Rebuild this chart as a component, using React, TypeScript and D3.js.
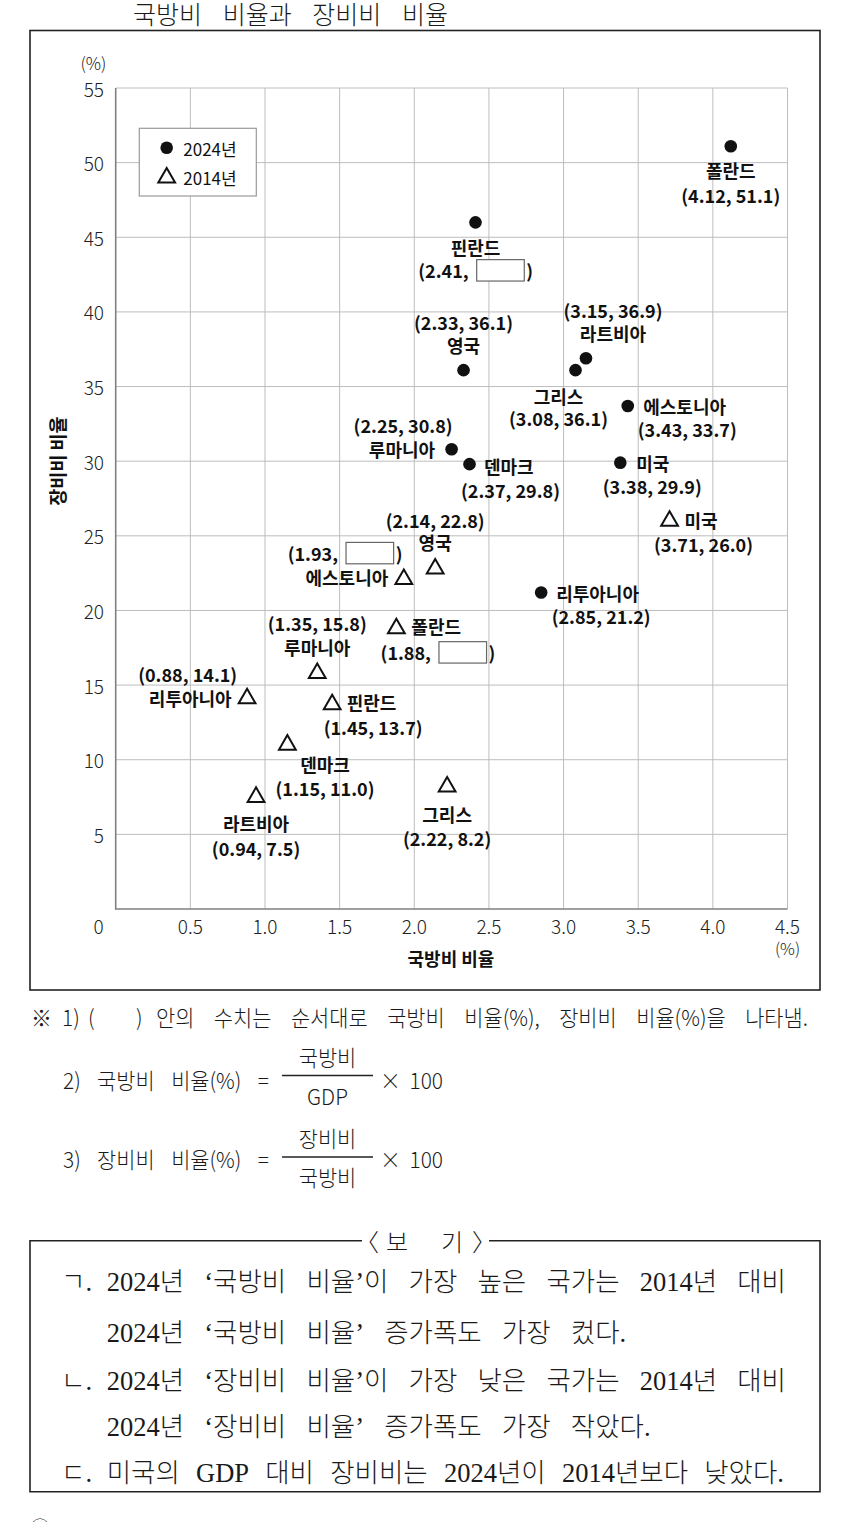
import { useEffect, useRef } from 'react';
import * as d3 from 'd3';

// 2024년 (filled circles)
const countries2024 = ['폴란드', '핀란드', '영국', '라트비아', '그리스', '에스토니아', '루마니아', '덴마크', '미국', '리투아니아'];
const defense2024 = [4.12, 2.41, 2.33, 3.15, 3.08, 3.43, 2.25, 2.37, 3.38, 2.85];
const equipment2024 = [51.1, 46.0, 36.1, 36.9, 36.1, 33.7, 30.8, 29.8, 29.9, 21.2];

// 2014년 (open triangles)
const countries2014 = ['미국', '영국', '에스토니아', '폴란드', '루마니아', '리투아니아', '핀란드', '덴마크', '라트비아', '그리스'];
const defense2014 = [3.71, 2.14, 1.93, 1.88, 1.35, 0.88, 1.45, 1.15, 0.94, 2.22];
const equipment2014 = [26.0, 22.8, 22.1, 18.8, 15.8, 14.1, 13.7, 11.0, 7.5, 8.2];

// values shown as an empty box in the original
const hiddenValues = ['2024-핀란드', '2014-에스토니아', '2014-폴란드'];

const xTickValues = [0, 0.5, 1.0, 1.5, 2.0, 2.5, 3.0, 3.5, 4.0, 4.5];
const yTickValues = [0, 5, 10, 15, 20, 25, 30, 35, 40, 45, 50, 55];

const titleWords = ['국방비', '비율과', '장비비', '비율'];
const noteWords = ['안의', '수치는', '순서대로', '국방비', '비율(%),', '장비비', '비율(%)을', '나타냄.'];
const bogiLines = [
  ['ㄱ.', '2024년', '‘국방비', '비율’이', '가장', '높은', '국가는', '2014년', '대비'],
  ['', '2024년', '‘국방비', '비율’', '증가폭도', '가장', '컸다.'],
  ['ㄴ.', '2024년', '‘장비비', '비율’이', '가장', '낮은', '국가는', '2014년', '대비'],
  ['', '2024년', '‘장비비', '비율’', '증가폭도', '가장', '작았다.'],
  ['ㄷ.', '미국의', 'GDP', '대비', '장비비는', '2024년이', '2014년보다', '낮았다.'],
];
// right edge of justified lines; null = continuation line set with the previous spacing
const bogiEnds: (number | null)[] = [786, null, 786, null, 784];

// label placement around each mark: [nameDx, nameDy, nameAnchor, valueDx, valueDy]
const labelLayout: Record<string, [number, number, string, number, number]> = {
  '2024-폴란드': [0, 24, 'middle', 0, 49],
  '2024-핀란드': [0, 25, 'middle', 0, 48],
  '2024-영국': [0, -25, 'middle', 0, -48],
  '2024-라트비아': [27, -25, 'middle', 27, -48],
  '2024-그리스': [-17, 26, 'middle', -17, 48],
  '2024-에스토니아': [15.5, 0, 'start', 59.5, 23],
  '2024-루마니아': [-16.5, 0, 'end', -48.5, -24],
  '2024-덴마크': [14.5, 2, 'start', 41, 26],
  '2024-미국': [16, 0, 'start', 32, 23],
  '2024-리투아니아': [15, 0, 'start', 60, 23],
  '2014-미국': [15, -1, 'start', 34, 23],
  '2014-영국': [0, -27, 'middle', 0, -49],
  '2014-에스토니아': [-15.5, -2, 'end', -59, -26],
  '2014-폴란드': [15, -2, 'start', 41.4, 24],
  '2014-루마니아': [0, -26, 'middle', 0, -50],
  '2014-리투아니아': [-15.4, -1, 'end', -59.4, -25],
  '2014-핀란드': [14.5, -2, 'start', 41, 23],
  '2014-덴마크': [37.6, 19.5, 'middle', 37.6, 43.5],
  '2014-라트비아': [0, 26, 'middle', 0, 51],
  '2014-그리스': [0, 27, 'middle', 0, 51],
};

const SANS = '"Noto Sans CJK KR", "Noto Sans", sans-serif';
const SERIF = '"Liberation Serif", "DejaVu Serif", "Noto Sans CJK KR", serif';

type Sel = d3.Selection<any, unknown, null, undefined>;
type Font = { size: number; family?: string; weight?: number; sx?: number; fill?: string };

// lay words out from x0; if x1 is given the gaps are stretched so the last word ends there,
// otherwise the given gap is used. Returns the gap used.
function placeWords(parent: Sel, words: string[], x0: number, x1: number | null, yc: number, o: Font, fixedGap = 10) {
  const sx = o.sx ?? 1;
  const g = parent.append('g').attr('transform', `scale(${sx},1)`);
  const nodes = words.map((w) =>
    g
      .append('text')
      .attr('y', yc)
      .attr('dominant-baseline', 'central')
      .attr('font-family', o.family ?? SANS)
      .attr('font-size', o.size)
      .attr('font-weight', o.weight ?? 400)
      .attr('fill', o.fill ?? '#1a1a1a')
      .text(w)
  );
  const widths = nodes.map((n) => (n.node() as SVGTextElement).getComputedTextLength());
  const a = x0 / sx;
  let gap = fixedGap / sx;
  if (x1 != null && words.length > 1) gap = (x1 / sx - a - d3.sum(widths)) / (words.length - 1);
  let cx = a;
  nodes.forEach((n, i) => {
    n.attr('x', cx);
    cx += widths[i] + gap;
  });
  return gap * sx;
}

export default function App() {
  const svgRef = useRef<SVGSVGElement>(null);

  useEffect(() => {
    if (!svgRef.current) return;
    const W = 850;
    const H = 1522;
    const plot = { left: 115.7, right: 787.5, top: 88, bottom: 909 };

    d3.select(svgRef.current).selectAll('*').remove();
    const svg = d3.select(svgRef.current).attr('width', W).attr('height', H);
    svg.append('rect').attr('width', W).attr('height', H).attr('fill', '#fff');

    const x = d3.scaleLinear().domain([0, 4.5]).range([plot.left, plot.right]);
    const y = d3.scaleLinear().domain([0, 55]).range([plot.bottom, plot.top]);

    // title (its top touches the page edge in the original)
    placeWords(svg, titleWords, 133, 448, 13, { size: 25, weight: 300 });

    // outer frame
    svg
      .append('rect')
      .attr('x', 30)
      .attr('y', 30.5)
      .attr('width', 790)
      .attr('height', 959.5)
      .attr('fill', 'none')
      .attr('stroke', '#222')
      .attr('stroke-width', 1.6);

    // grid
    const grid = svg.append('g').attr('stroke', '#bdbdbd').attr('stroke-width', 1);
    xTickValues.slice(1).forEach((t) => {
      grid.append('line').attr('x1', x(t)).attr('x2', x(t)).attr('y1', y(0)).attr('y2', y(55));
    });
    yTickValues.slice(1).forEach((t) => {
      grid.append('line').attr('x1', x(0)).attr('x2', x(4.5)).attr('y1', y(t)).attr('y2', y(t));
    });
    // axis lines
    svg
      .append('path')
      .attr('d', `M${x(0)},${y(55)}V${y(0)}H${x(4.5)}`)
      .attr('fill', 'none')
      .attr('stroke', '#808080')
      .attr('stroke-width', 1.6);

    // tick labels
    const tickStyle = (s: Sel) =>
      s
        .attr('font-family', SANS)
        .attr('font-size', 19)
        .attr('font-weight', 300)
        .attr('fill', '#222')
        .attr('dominant-baseline', 'central');

    yTickValues.slice(1).forEach((t) => {
      svg.append('text').call(tickStyle).attr('x', 104).attr('y', y(t)).attr('text-anchor', 'end').text(t);
    });
    xTickValues.slice(1).forEach((t) => {
      svg
        .append('text')
        .call(tickStyle)
        .attr('x', x(t))
        .attr('y', 925)
        .attr('text-anchor', 'middle')
        .text(d3.format('.1f')(t));
    });
    svg.append('text').call(tickStyle).attr('x', 98.7).attr('y', 925).attr('text-anchor', 'middle').text('0');
    svg.append('text').call(tickStyle).attr('x', 93.5).attr('y', 62.5).attr('text-anchor', 'middle').attr('font-size', 17).text('(%)');
    svg.append('text').call(tickStyle).attr('x', x(4.5)).attr('y', 948).attr('text-anchor', 'middle').attr('font-size', 16.5).text('(%)');

    // axis titles
    svg
      .append('text')
      .attr('x', 451)
      .attr('y', 958)
      .attr('text-anchor', 'middle')
      .attr('dominant-baseline', 'central')
      .attr('font-family', SANS)
      .attr('font-weight', 700)
      .attr('font-size', 18)
      .attr('fill', '#111')
      .text('국방비 비율');
    svg
      .append('text')
      .attr('transform', 'translate(57,461) rotate(-90)')
      .attr('text-anchor', 'middle')
      .attr('dominant-baseline', 'central')
      .attr('font-family', SANS)
      .attr('font-weight', 700)
      .attr('font-size', 18.5)
      .attr('fill', '#111')
      .text('장비비 비율');

    const triangle = d3.symbol().type(d3.symbolTriangle).size(122)();

    // legend
    const legend = svg.append('g');
    legend
      .append('rect')
      .attr('x', 139.3)
      .attr('y', 128.3)
      .attr('width', 117)
      .attr('height', 67.7)
      .attr('fill', '#fff')
      .attr('stroke', '#9a9a9a')
      .attr('stroke-width', 1.2);
    legend.append('circle').attr('cx', 166.7).attr('cy', 147.8).attr('r', 6.3).attr('fill', '#111');
    legend
      .append('path')
      .attr('d', triangle)
      .attr('transform', 'translate(166.7,177.6)')
      .attr('fill', '#fff')
      .attr('stroke', '#111')
      .attr('stroke-width', 2);
    [
      ['2024년', 148.3],
      ['2014년', 177],
    ].forEach(([t, ty]) => {
      legend
        .append('text')
        .attr('x', 183.3)
        .attr('y', ty)
        .attr('dominant-baseline', 'central')
        .attr('font-family', SANS)
        .attr('font-size', 17)
        .attr('fill', '#111')
        .text(t as string);
    });

    const series = [
      { year: '2024', names: countries2024, xs: defense2024, ys: equipment2024 },
      { year: '2014', names: countries2014, xs: defense2014, ys: equipment2014 },
    ];

    const labelStyle = (s: Sel) =>
      s
        .attr('font-family', SANS)
        .attr('font-weight', 700)
        .attr('font-size', 18)
        .attr('fill', '#111')
        .attr('dominant-baseline', 'central');

    series.forEach((sr) => {
      const g = svg.append('g');
      sr.names.forEach((name, i) => {
        const px = x(sr.xs[i]);
        const py = y(sr.ys[i]);
        const key = `${sr.year}-${name}`;
        if (sr.year === '2024') {
          g.append('circle').attr('cx', px).attr('cy', py).attr('r', 6.3).attr('fill', '#111');
        } else {
          g.append('path')
            .attr('d', triangle)
            .attr('transform', `translate(${px},${py})`)
            .attr('fill', '#fff')
            .attr('stroke', '#111')
            .attr('stroke-width', 2);
        }

        const [ndx, ndy, anchor, vdx, vdy] = labelLayout[key];
        g.append('text')
          .call(labelStyle)
          .attr('x', px + ndx)
          .attr('y', py + ndy)
          .attr('text-anchor', anchor)
          .text(name);

        const vx = px + vdx;
        const vy = py + vdy;
        const xs = sr.xs[i].toFixed(2);
        if (hiddenValues.includes(key)) {
          const bw = 47.6;
          const bh = 21.4;
          const bx = vx + 25 - bw / 2;
          g.append('text').call(labelStyle).attr('x', bx - 8).attr('y', vy).attr('text-anchor', 'end').text(`(${xs},`);
          g.append('rect')
            .attr('x', bx)
            .attr('y', vy - bh / 2)
            .attr('width', bw)
            .attr('height', bh)
            .attr('fill', '#fff')
            .attr('stroke', '#666')
            .attr('stroke-width', 1.2);
          g.append('text').call(labelStyle).attr('x', bx + bw + 2).attr('y', vy).text(')');
        } else {
          g.append('text')
            .call(labelStyle)
            .attr('x', vx)
            .attr('y', vy)
            .attr('text-anchor', 'middle')
            .text(`(${xs}, ${sr.ys[i].toFixed(1)})`);
        }
      });
    });

    // footnotes
    const note: Font = { size: 22, sx: 0.95, weight: 300 };
    placeWords(svg, ['※'], 31, null, 1016, note);
    placeWords(svg, ['1)'], 62, null, 1016, note);
    placeWords(svg, ['('], 88, null, 1016, note);
    placeWords(svg, [')'], 136, null, 1016, note);
    placeWords(svg, noteWords, 156, 808, 1016, note);

    const formula = (num: string, den: string, lead: string[], ty: number, lineY: number, numY: number, denY: number) => {
      placeWords(svg, lead, 63, 269, ty, note);
      svg.append('line').attr('x1', 282).attr('x2', 373).attr('y1', lineY).attr('y2', lineY).attr('stroke', '#222').attr('stroke-width', 1.3);
      const cx = 327.5;
      [
        [num, numY],
        [den, denY],
      ].forEach(([t, ty2]) => {
        svg
          .append('g')
          .attr('transform', `scale(${note.sx},1)`)
          .append('text')
          .attr('x', cx / (note.sx as number))
          .attr('y', ty2)
          .attr('text-anchor', 'middle')
          .attr('dominant-baseline', 'central')
          .attr('font-family', SANS)
          .attr('font-size', note.size)
          .attr('font-weight', 300)
          .attr('fill', '#1a1a1a')
          .text(t as string);
      });
      placeWords(svg, ['×', '100'], 380, 443, ty, note);
    };
    formula('국방비', 'GDP', ['2)', '국방비', '비율(%)', '='], 1079, 1075.5, 1056, 1095);
    formula('장비비', '국방비', ['3)', '장비비', '비율(%)', '='], 1158, 1157, 1137, 1176);

    // 보기 box
    const boxTop = 1240.7;
    svg
      .append('path')
      .attr('d', `M362,${boxTop}H30V1491.7H820V${boxTop}H489`)
      .attr('fill', 'none')
      .attr('stroke', '#222')
      .attr('stroke-width', 1.6);
    const header: [string, number][] = [
      ['〈', 367],
      ['보', 397],
      ['기', 452],
      ['〉', 484],
    ];
    header.forEach(([t, hx]) => {
      svg
        .append('text')
        .attr('x', hx)
        .attr('y', boxTop)
        .attr('text-anchor', 'middle')
        .attr('dominant-baseline', 'central')
        .attr('font-family', SANS)
        .attr('font-size', 24)
        .attr('font-weight', 300)
        .attr('fill', '#1a1a1a')
        .text(t);
    });

    const bogiY = [1282, 1332.5, 1380.5, 1427, 1473];
    const bogiFont: Font = { size: 26.5, family: SERIF, weight: 300 };
    let lastGap = 14;
    bogiLines.forEach((words, i) => {
      if (words[0]) placeWords(svg, [words[0]], 61, null, bogiY[i], bogiFont);
      lastGap = placeWords(svg, words.slice(1), 106.7, bogiEnds[i], bogiY[i], bogiFont, lastGap);
    });

    // next choice, cut off by the page edge
    svg
      .append('text')
      .attr('x', 30)
      .attr('y', 1527)
      .attr('dominant-baseline', 'central')
      .attr('font-family', SANS)
      .attr('font-size', 20)
      .attr('font-weight', 300)
      .attr('fill', '#1a1a1a')
      .text('①');
  }, []);

  return <svg ref={svgRef} style={{ position: 'absolute', left: 0, top: 0, display: 'block' }}></svg>;
}
